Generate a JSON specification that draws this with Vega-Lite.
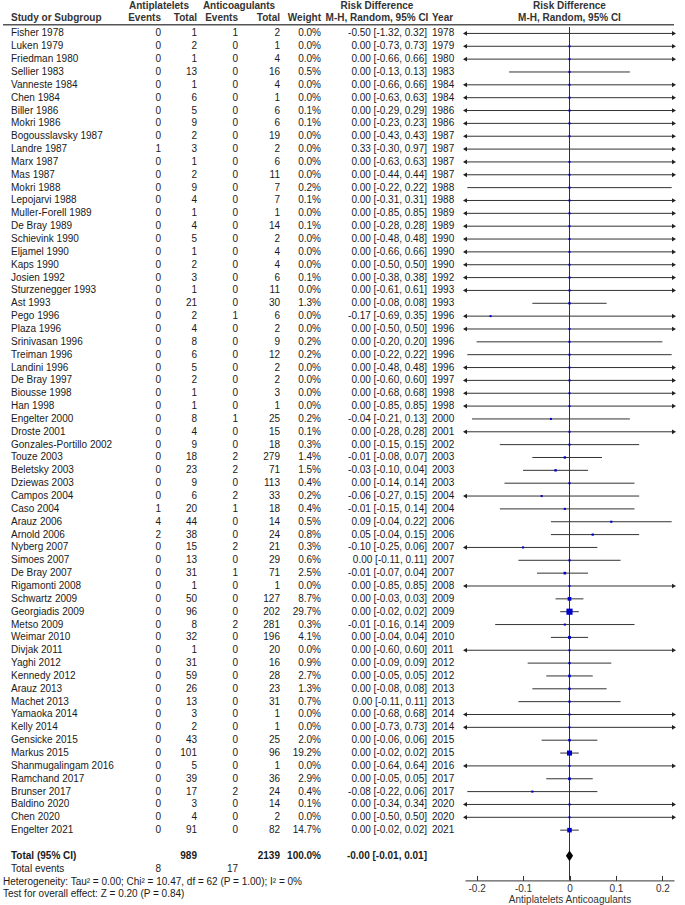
{
"$schema": "https://vega.github.io/schema/vega-lite/v6.json",
"padding": {"left": 2, "top": 0, "right": 2, "bottom": 0},
"background": "white",
"spacing": 0,
"bounds": "flush",
"config": {
  "view": {"stroke": null},
  "font": "Liberation Sans",
  "text": {"font": "Liberation Sans", "fontSize": 10, "color": "#1a1a1a", "baseline": "middle"},
  "title": {"font": "Liberation Sans", "fontSize": 10, "fontWeight": "bold", "color": "#333333", "frame": "group", "baseline": "bottom", "offset": 1, "lineHeight": 12, "anchor": "middle"},
  "axis": {"labelFont": "Liberation Sans", "titleFont": "Liberation Sans", "labelFontSize": 10, "titleFontSize": 10, "titleFontWeight": "normal", "labelColor": "#333333", "titleColor": "#333333", "domainColor": "#333333", "tickColor": "#333333", "grid": false},
  "concat": {"spacing": 0}
},
"data": {"values": [
{"i":0,"k":"study","s":"Fisher 1978","e1":0,"n1":1,"e2":1,"n2":2,"wt":"0.0%","ci":"-0.50 [-1.32, 0.32]","yr":"1978","rd":-0.50,"lo":-1.32,"hi":0.32,"w":0.0},
{"i":1,"k":"study","s":"Luken 1979","e1":0,"n1":2,"e2":0,"n2":1,"wt":"0.0%","ci":"0.00 [-0.73, 0.73]","yr":"1979","rd":0,"lo":-0.73,"hi":0.73,"w":0.0},
{"i":2,"k":"study","s":"Friedman 1980","e1":0,"n1":1,"e2":0,"n2":4,"wt":"0.0%","ci":"0.00 [-0.66, 0.66]","yr":"1980","rd":0,"lo":-0.66,"hi":0.66,"w":0.0},
{"i":3,"k":"study","s":"Sellier 1983","e1":0,"n1":13,"e2":0,"n2":16,"wt":"0.5%","ci":"0.00 [-0.13, 0.13]","yr":"1983","rd":0,"lo":-0.13,"hi":0.13,"w":0.5},
{"i":4,"k":"study","s":"Vanneste 1984","e1":0,"n1":1,"e2":0,"n2":4,"wt":"0.0%","ci":"0.00 [-0.66, 0.66]","yr":"1984","rd":0,"lo":-0.66,"hi":0.66,"w":0.0},
{"i":5,"k":"study","s":"Chen 1984","e1":0,"n1":6,"e2":0,"n2":1,"wt":"0.0%","ci":"0.00 [-0.63, 0.63]","yr":"1984","rd":0,"lo":-0.63,"hi":0.63,"w":0.0},
{"i":6,"k":"study","s":"Biller 1986","e1":0,"n1":5,"e2":0,"n2":6,"wt":"0.1%","ci":"0.00 [-0.29, 0.29]","yr":"1986","rd":0,"lo":-0.29,"hi":0.29,"w":0.1},
{"i":7,"k":"study","s":"Mokri 1986","e1":0,"n1":9,"e2":0,"n2":6,"wt":"0.1%","ci":"0.00 [-0.23, 0.23]","yr":"1986","rd":0,"lo":-0.23,"hi":0.23,"w":0.1},
{"i":8,"k":"study","s":"Bogousslavsky 1987","e1":0,"n1":2,"e2":0,"n2":19,"wt":"0.0%","ci":"0.00 [-0.43, 0.43]","yr":"1987","rd":0,"lo":-0.43,"hi":0.43,"w":0.0},
{"i":9,"k":"study","s":"Landre 1987","e1":1,"n1":3,"e2":0,"n2":2,"wt":"0.0%","ci":"0.33 [-0.30, 0.97]","yr":"1987","rd":0.33,"lo":-0.30,"hi":0.97,"w":0.0},
{"i":10,"k":"study","s":"Marx 1987","e1":0,"n1":1,"e2":0,"n2":6,"wt":"0.0%","ci":"0.00 [-0.63, 0.63]","yr":"1987","rd":0,"lo":-0.63,"hi":0.63,"w":0.0},
{"i":11,"k":"study","s":"Mas 1987","e1":0,"n1":2,"e2":0,"n2":11,"wt":"0.0%","ci":"0.00 [-0.44, 0.44]","yr":"1987","rd":0,"lo":-0.44,"hi":0.44,"w":0.0},
{"i":12,"k":"study","s":"Mokri 1988","e1":0,"n1":9,"e2":0,"n2":7,"wt":"0.2%","ci":"0.00 [-0.22, 0.22]","yr":"1988","rd":0,"lo":-0.22,"hi":0.22,"w":0.2},
{"i":13,"k":"study","s":"Lepojarvi 1988","e1":0,"n1":4,"e2":0,"n2":7,"wt":"0.1%","ci":"0.00 [-0.31, 0.31]","yr":"1988","rd":0,"lo":-0.31,"hi":0.31,"w":0.1},
{"i":14,"k":"study","s":"Muller-Forell 1989","e1":0,"n1":1,"e2":0,"n2":1,"wt":"0.0%","ci":"0.00 [-0.85, 0.85]","yr":"1989","rd":0,"lo":-0.85,"hi":0.85,"w":0.0},
{"i":15,"k":"study","s":"De Bray 1989","e1":0,"n1":4,"e2":0,"n2":14,"wt":"0.1%","ci":"0.00 [-0.28, 0.28]","yr":"1989","rd":0,"lo":-0.28,"hi":0.28,"w":0.1},
{"i":16,"k":"study","s":"Schievink 1990","e1":0,"n1":5,"e2":0,"n2":2,"wt":"0.0%","ci":"0.00 [-0.48, 0.48]","yr":"1990","rd":0,"lo":-0.48,"hi":0.48,"w":0.0},
{"i":17,"k":"study","s":"Eljamel 1990","e1":0,"n1":1,"e2":0,"n2":4,"wt":"0.0%","ci":"0.00 [-0.66, 0.66]","yr":"1990","rd":0,"lo":-0.66,"hi":0.66,"w":0.0},
{"i":18,"k":"study","s":"Kaps 1990","e1":0,"n1":2,"e2":0,"n2":4,"wt":"0.0%","ci":"0.00 [-0.50, 0.50]","yr":"1990","rd":0,"lo":-0.50,"hi":0.50,"w":0.0},
{"i":19,"k":"study","s":"Josien 1992","e1":0,"n1":3,"e2":0,"n2":6,"wt":"0.1%","ci":"0.00 [-0.38, 0.38]","yr":"1992","rd":0,"lo":-0.38,"hi":0.38,"w":0.1},
{"i":20,"k":"study","s":"Sturzenegger 1993","e1":0,"n1":1,"e2":0,"n2":11,"wt":"0.0%","ci":"0.00 [-0.61, 0.61]","yr":"1993","rd":0,"lo":-0.61,"hi":0.61,"w":0.0},
{"i":21,"k":"study","s":"Ast 1993","e1":0,"n1":21,"e2":0,"n2":30,"wt":"1.3%","ci":"0.00 [-0.08, 0.08]","yr":"1993","rd":0,"lo":-0.08,"hi":0.08,"w":1.3},
{"i":22,"k":"study","s":"Pego 1996","e1":0,"n1":2,"e2":1,"n2":6,"wt":"0.0%","ci":"-0.17 [-0.69, 0.35]","yr":"1996","rd":-0.17,"lo":-0.69,"hi":0.35,"w":0.0},
{"i":23,"k":"study","s":"Plaza 1996","e1":0,"n1":4,"e2":0,"n2":2,"wt":"0.0%","ci":"0.00 [-0.50, 0.50]","yr":"1996","rd":0,"lo":-0.50,"hi":0.50,"w":0.0},
{"i":24,"k":"study","s":"Srinivasan 1996","e1":0,"n1":8,"e2":0,"n2":9,"wt":"0.2%","ci":"0.00 [-0.20, 0.20]","yr":"1996","rd":0,"lo":-0.20,"hi":0.20,"w":0.2},
{"i":25,"k":"study","s":"Treiman 1996","e1":0,"n1":6,"e2":0,"n2":12,"wt":"0.2%","ci":"0.00 [-0.22, 0.22]","yr":"1996","rd":0,"lo":-0.22,"hi":0.22,"w":0.2},
{"i":26,"k":"study","s":"Landini 1996","e1":0,"n1":5,"e2":0,"n2":2,"wt":"0.0%","ci":"0.00 [-0.48, 0.48]","yr":"1996","rd":0,"lo":-0.48,"hi":0.48,"w":0.0},
{"i":27,"k":"study","s":"De Bray 1997","e1":0,"n1":2,"e2":0,"n2":2,"wt":"0.0%","ci":"0.00 [-0.60, 0.60]","yr":"1997","rd":0,"lo":-0.60,"hi":0.60,"w":0.0},
{"i":28,"k":"study","s":"Biousse 1998","e1":0,"n1":1,"e2":0,"n2":3,"wt":"0.0%","ci":"0.00 [-0.68, 0.68]","yr":"1998","rd":0,"lo":-0.68,"hi":0.68,"w":0.0},
{"i":29,"k":"study","s":"Han 1998","e1":0,"n1":1,"e2":0,"n2":1,"wt":"0.0%","ci":"0.00 [-0.85, 0.85]","yr":"1998","rd":0,"lo":-0.85,"hi":0.85,"w":0.0},
{"i":30,"k":"study","s":"Engelter 2000","e1":0,"n1":8,"e2":1,"n2":25,"wt":"0.2%","ci":"-0.04 [-0.21, 0.13]","yr":"2000","rd":-0.04,"lo":-0.21,"hi":0.13,"w":0.2},
{"i":31,"k":"study","s":"Droste 2001","e1":0,"n1":4,"e2":0,"n2":15,"wt":"0.1%","ci":"0.00 [-0.28, 0.28]","yr":"2001","rd":0,"lo":-0.28,"hi":0.28,"w":0.1},
{"i":32,"k":"study","s":"Gonzales-Portillo 2002","e1":0,"n1":9,"e2":0,"n2":18,"wt":"0.3%","ci":"0.00 [-0.15, 0.15]","yr":"2002","rd":0,"lo":-0.15,"hi":0.15,"w":0.3},
{"i":33,"k":"study","s":"Touze 2003","e1":0,"n1":18,"e2":2,"n2":279,"wt":"1.4%","ci":"-0.01 [-0.08, 0.07]","yr":"2003","rd":-0.01,"lo":-0.08,"hi":0.07,"w":1.4},
{"i":34,"k":"study","s":"Beletsky 2003","e1":0,"n1":23,"e2":2,"n2":71,"wt":"1.5%","ci":"-0.03 [-0.10, 0.04]","yr":"2003","rd":-0.03,"lo":-0.10,"hi":0.04,"w":1.5},
{"i":35,"k":"study","s":"Dziewas 2003","e1":0,"n1":9,"e2":0,"n2":113,"wt":"0.4%","ci":"0.00 [-0.14, 0.14]","yr":"2003","rd":0,"lo":-0.14,"hi":0.14,"w":0.4},
{"i":36,"k":"study","s":"Campos 2004","e1":0,"n1":6,"e2":2,"n2":33,"wt":"0.2%","ci":"-0.06 [-0.27, 0.15]","yr":"2004","rd":-0.06,"lo":-0.27,"hi":0.15,"w":0.2},
{"i":37,"k":"study","s":"Caso 2004","e1":1,"n1":20,"e2":1,"n2":18,"wt":"0.4%","ci":"-0.01 [-0.15, 0.14]","yr":"2004","rd":-0.01,"lo":-0.15,"hi":0.14,"w":0.4},
{"i":38,"k":"study","s":"Arauz 2006","e1":4,"n1":44,"e2":0,"n2":14,"wt":"0.5%","ci":"0.09 [-0.04, 0.22]","yr":"2006","rd":0.09,"lo":-0.04,"hi":0.22,"w":0.5},
{"i":39,"k":"study","s":"Arnold 2006","e1":2,"n1":38,"e2":0,"n2":24,"wt":"0.8%","ci":"0.05 [-0.04, 0.15]","yr":"2006","rd":0.05,"lo":-0.04,"hi":0.15,"w":0.8},
{"i":40,"k":"study","s":"Nyberg 2007","e1":0,"n1":15,"e2":2,"n2":21,"wt":"0.3%","ci":"-0.10 [-0.25, 0.06]","yr":"2007","rd":-0.10,"lo":-0.25,"hi":0.06,"w":0.3},
{"i":41,"k":"study","s":"Simoes 2007","e1":0,"n1":13,"e2":0,"n2":29,"wt":"0.6%","ci":"0.00 [-0.11, 0.11]","yr":"2007","rd":0,"lo":-0.11,"hi":0.11,"w":0.6},
{"i":42,"k":"study","s":"De Bray 2007","e1":0,"n1":31,"e2":1,"n2":71,"wt":"2.5%","ci":"-0.01 [-0.07, 0.04]","yr":"2007","rd":-0.01,"lo":-0.07,"hi":0.04,"w":2.5},
{"i":43,"k":"study","s":"Rigamonti 2008","e1":0,"n1":1,"e2":0,"n2":1,"wt":"0.0%","ci":"0.00 [-0.85, 0.85]","yr":"2008","rd":0,"lo":-0.85,"hi":0.85,"w":0.0},
{"i":44,"k":"study","s":"Schwartz 2009","e1":0,"n1":50,"e2":0,"n2":127,"wt":"8.7%","ci":"0.00 [-0.03, 0.03]","yr":"2009","rd":0,"lo":-0.03,"hi":0.03,"w":8.7},
{"i":45,"k":"study","s":"Georgiadis 2009","e1":0,"n1":96,"e2":0,"n2":202,"wt":"29.7%","ci":"0.00 [-0.02, 0.02]","yr":"2009","rd":0,"lo":-0.02,"hi":0.02,"w":29.7},
{"i":46,"k":"study","s":"Metso 2009","e1":0,"n1":8,"e2":2,"n2":281,"wt":"0.3%","ci":"-0.01 [-0.16, 0.14]","yr":"2009","rd":-0.01,"lo":-0.16,"hi":0.14,"w":0.3},
{"i":47,"k":"study","s":"Weimar 2010","e1":0,"n1":32,"e2":0,"n2":196,"wt":"4.1%","ci":"0.00 [-0.04, 0.04]","yr":"2010","rd":0,"lo":-0.04,"hi":0.04,"w":4.1},
{"i":48,"k":"study","s":"Divjak 2011","e1":0,"n1":1,"e2":0,"n2":20,"wt":"0.0%","ci":"0.00 [-0.60, 0.60]","yr":"2011","rd":0,"lo":-0.60,"hi":0.60,"w":0.0},
{"i":49,"k":"study","s":"Yaghi 2012","e1":0,"n1":31,"e2":0,"n2":16,"wt":"0.9%","ci":"0.00 [-0.09, 0.09]","yr":"2012","rd":0,"lo":-0.09,"hi":0.09,"w":0.9},
{"i":50,"k":"study","s":"Kennedy 2012","e1":0,"n1":59,"e2":0,"n2":28,"wt":"2.7%","ci":"0.00 [-0.05, 0.05]","yr":"2012","rd":0,"lo":-0.05,"hi":0.05,"w":2.7},
{"i":51,"k":"study","s":"Arauz 2013","e1":0,"n1":26,"e2":0,"n2":23,"wt":"1.3%","ci":"0.00 [-0.08, 0.08]","yr":"2013","rd":0,"lo":-0.08,"hi":0.08,"w":1.3},
{"i":52,"k":"study","s":"Machet 2013","e1":0,"n1":13,"e2":0,"n2":31,"wt":"0.7%","ci":"0.00 [-0.11, 0.11]","yr":"2013","rd":0,"lo":-0.11,"hi":0.11,"w":0.7},
{"i":53,"k":"study","s":"Yamaoka 2014","e1":0,"n1":3,"e2":0,"n2":1,"wt":"0.0%","ci":"0.00 [-0.68, 0.68]","yr":"2014","rd":0,"lo":-0.68,"hi":0.68,"w":0.0},
{"i":54,"k":"study","s":"Kelly 2014","e1":0,"n1":2,"e2":0,"n2":1,"wt":"0.0%","ci":"0.00 [-0.73, 0.73]","yr":"2014","rd":0,"lo":-0.73,"hi":0.73,"w":0.0},
{"i":55,"k":"study","s":"Gensicke 2015","e1":0,"n1":43,"e2":0,"n2":25,"wt":"2.0%","ci":"0.00 [-0.06, 0.06]","yr":"2015","rd":0,"lo":-0.06,"hi":0.06,"w":2.0},
{"i":56,"k":"study","s":"Markus 2015","e1":0,"n1":101,"e2":0,"n2":96,"wt":"19.2%","ci":"0.00 [-0.02, 0.02]","yr":"2015","rd":0,"lo":-0.02,"hi":0.02,"w":19.2},
{"i":57,"k":"study","s":"Shanmugalingam 2016","e1":0,"n1":5,"e2":0,"n2":1,"wt":"0.0%","ci":"0.00 [-0.64, 0.64]","yr":"2016","rd":0,"lo":-0.64,"hi":0.64,"w":0.0},
{"i":58,"k":"study","s":"Ramchand 2017","e1":0,"n1":39,"e2":0,"n2":36,"wt":"2.9%","ci":"0.00 [-0.05, 0.05]","yr":"2017","rd":0,"lo":-0.05,"hi":0.05,"w":2.9},
{"i":59,"k":"study","s":"Brunser 2017","e1":0,"n1":17,"e2":2,"n2":24,"wt":"0.4%","ci":"-0.08 [-0.22, 0.06]","yr":"2017","rd":-0.08,"lo":-0.22,"hi":0.06,"w":0.4},
{"i":60,"k":"study","s":"Baldino 2020","e1":0,"n1":3,"e2":0,"n2":14,"wt":"0.1%","ci":"0.00 [-0.34, 0.34]","yr":"2020","rd":0,"lo":-0.34,"hi":0.34,"w":0.1},
{"i":61,"k":"study","s":"Chen 2020","e1":0,"n1":4,"e2":0,"n2":2,"wt":"0.0%","ci":"0.00 [-0.50, 0.50]","yr":"2020","rd":0,"lo":-0.50,"hi":0.50,"w":0.0},
{"i":62,"k":"study","s":"Engelter 2021","e1":0,"n1":91,"e2":0,"n2":82,"wt":"14.7%","ci":"0.00 [-0.02, 0.02]","yr":"2021","rd":0,"lo":-0.02,"hi":0.02,"w":14.7},
{"i":64,"k":"total","s":"Total (95% CI)","n1":989,"n2":2139,"wt":"100.0%","ci":"-0.00 [-0.01, 0.01]","rd":0,"lo":-0.01,"hi":0.01},
{"i":65,"k":"te","s":"Total events","e1":8,"e2":17},
{"i":66,"k":"note","s":"Heterogeneity: Tau² = 0.00; Chi² = 10.47, df = 62 (P = 1.00); I² = 0%"},
{"i":67,"k":"note","s":"Test for overall effect: Z = 0.20 (P = 0.84)"}
]},
"hconcat": [
{
  "width": 118, "height": 873.8,
  "title": {"text": "Study or Subgroup", "anchor": "start", "dx": 8},
  "layer": [
    {"transform": [{"filter": "datum.k == 'study' || datum.k == 'te'"}],
     "mark": {"type": "text", "align": "left", "x": 0, "dx": 8},
     "encoding": {"y": {"field": "i", "type": "quantitative", "scale": {"domain": [-0.5, 67.5], "reverse": true, "nice": false, "zero": false}, "axis": null}, "text": {"field": "s", "type": "nominal"}}},
    {"transform": [{"filter": "datum.k == 'total'"}],
     "mark": {"type": "text", "align": "left", "x": 0, "dx": 8, "fontWeight": "bold"},
     "encoding": {"y": {"field": "i", "type": "quantitative", "scale": {"domain": [-0.5, 67.5], "reverse": true, "nice": false, "zero": false}, "axis": null}, "text": {"field": "s", "type": "nominal"}}},
    {"transform": [{"filter": "datum.k == 'note'"}],
     "mark": {"type": "text", "align": "left", "x": 0},
     "encoding": {"y": {"field": "i", "type": "quantitative", "scale": {"domain": [-0.5, 67.5], "reverse": true, "nice": false, "zero": false}, "axis": null}, "text": {"field": "s", "type": "nominal"}}},
    {"data": {"values": [{}]},
     "mark": {"type": "rule", "color": "#555555", "strokeWidth": 1.6},
     "encoding": {"y": {"datum": -0.68, "type": "quantitative", "scale": {"domain": [-0.5, 67.5], "reverse": true, "nice": false, "zero": false}, "axis": null}}}
  ]
},
{
  "width": 40, "height": 873.8,
  "layer": [
    {"transform": [{"filter": "isValid(datum.e1)"}],
     "mark": {"type": "text", "align": "right", "x": "width"},
     "encoding": {"y": {"field": "i", "type": "quantitative", "scale": {"domain": [-0.5, 67.5], "reverse": true, "nice": false, "zero": false}, "axis": null}, "text": {"field": "e1", "type": "nominal"}}},
    {"data": {"values": [{}]},
     "mark": {"type": "text", "align": "right", "x": "width", "fontWeight": "bold", "color": "#333333"},
     "encoding": {"y": {"datum": -1.22, "type": "quantitative", "scale": {"domain": [-0.5, 67.5], "reverse": true, "nice": false, "zero": false}, "axis": null}, "text": {"value": "Events"}}},
    {"data": {"values": [{}]},
     "mark": {"type": "text", "align": "center", "x": "width", "dx": -2, "fontWeight": "bold", "color": "#333333"},
     "encoding": {"y": {"datum": -2.12, "type": "quantitative", "scale": {"domain": [-0.5, 67.5], "reverse": true, "nice": false, "zero": false}, "axis": null}, "text": {"value": "Antiplatelets"}}},
    {"data": {"values": [{}]},
     "mark": {"type": "rule", "color": "#555555", "strokeWidth": 1.6},
     "encoding": {"y": {"datum": -0.68, "type": "quantitative", "scale": {"domain": [-0.5, 67.5], "reverse": true, "nice": false, "zero": false}, "axis": null}}}
  ]
},
{
  "width": 36, "height": 873.8,
  "layer": [
    {"transform": [{"filter": "isValid(datum.n1) && datum.k != 'total'"}],
     "mark": {"type": "text", "align": "right", "x": "width"},
     "encoding": {"y": {"field": "i", "type": "quantitative", "scale": {"domain": [-0.5, 67.5], "reverse": true, "nice": false, "zero": false}, "axis": null}, "text": {"field": "n1", "type": "nominal"}}},
    {"transform": [{"filter": "datum.k == 'total'"}],
     "mark": {"type": "text", "align": "right", "x": "width", "fontWeight": "bold"},
     "encoding": {"y": {"field": "i", "type": "quantitative", "scale": {"domain": [-0.5, 67.5], "reverse": true, "nice": false, "zero": false}, "axis": null}, "text": {"field": "n1", "type": "nominal"}}},
    {"data": {"values": [{}]},
     "mark": {"type": "text", "align": "right", "x": "width", "fontWeight": "bold", "color": "#333333"},
     "encoding": {"y": {"datum": -1.22, "type": "quantitative", "scale": {"domain": [-0.5, 67.5], "reverse": true, "nice": false, "zero": false}, "axis": null}, "text": {"value": "Total"}}},
    {"data": {"values": [{}]},
     "mark": {"type": "rule", "color": "#555555", "strokeWidth": 1.6},
     "encoding": {"y": {"datum": -0.68, "type": "quantitative", "scale": {"domain": [-0.5, 67.5], "reverse": true, "nice": false, "zero": false}, "axis": null}}}
  ]
},
{
  "width": 41, "height": 873.8,
  "layer": [
    {"transform": [{"filter": "isValid(datum.e2)"}],
     "mark": {"type": "text", "align": "right", "x": "width"},
     "encoding": {"y": {"field": "i", "type": "quantitative", "scale": {"domain": [-0.5, 67.5], "reverse": true, "nice": false, "zero": false}, "axis": null}, "text": {"field": "e2", "type": "nominal"}}},
    {"data": {"values": [{}]},
     "mark": {"type": "text", "align": "right", "x": "width", "fontWeight": "bold", "color": "#333333"},
     "encoding": {"y": {"datum": -1.22, "type": "quantitative", "scale": {"domain": [-0.5, 67.5], "reverse": true, "nice": false, "zero": false}, "axis": null}, "text": {"value": "Events"}}},
    {"data": {"values": [{}]},
     "mark": {"type": "text", "align": "center", "x": "width", "dx": 1, "fontWeight": "bold", "color": "#333333"},
     "encoding": {"y": {"datum": -2.12, "type": "quantitative", "scale": {"domain": [-0.5, 67.5], "reverse": true, "nice": false, "zero": false}, "axis": null}, "text": {"value": "Anticoagulants"}}},
    {"data": {"values": [{}]},
     "mark": {"type": "rule", "color": "#555555", "strokeWidth": 1.6},
     "encoding": {"y": {"datum": -0.68, "type": "quantitative", "scale": {"domain": [-0.5, 67.5], "reverse": true, "nice": false, "zero": false}, "axis": null}}}
  ]
},
{
  "width": 42, "height": 873.8,
  "layer": [
    {"transform": [{"filter": "isValid(datum.n2) && datum.k != 'total'"}],
     "mark": {"type": "text", "align": "right", "x": "width"},
     "encoding": {"y": {"field": "i", "type": "quantitative", "scale": {"domain": [-0.5, 67.5], "reverse": true, "nice": false, "zero": false}, "axis": null}, "text": {"field": "n2", "type": "nominal"}}},
    {"transform": [{"filter": "datum.k == 'total'"}],
     "mark": {"type": "text", "align": "right", "x": "width", "fontWeight": "bold"},
     "encoding": {"y": {"field": "i", "type": "quantitative", "scale": {"domain": [-0.5, 67.5], "reverse": true, "nice": false, "zero": false}, "axis": null}, "text": {"field": "n2", "type": "nominal"}}},
    {"data": {"values": [{}]},
     "mark": {"type": "text", "align": "right", "x": "width", "fontWeight": "bold", "color": "#333333"},
     "encoding": {"y": {"datum": -1.22, "type": "quantitative", "scale": {"domain": [-0.5, 67.5], "reverse": true, "nice": false, "zero": false}, "axis": null}, "text": {"value": "Total"}}},
    {"data": {"values": [{}]},
     "mark": {"type": "rule", "color": "#555555", "strokeWidth": 1.6},
     "encoding": {"y": {"datum": -0.68, "type": "quantitative", "scale": {"domain": [-0.5, 67.5], "reverse": true, "nice": false, "zero": false}, "axis": null}}}
  ]
},
{
  "width": 41, "height": 873.8,
  "title": {"text": "Weight", "anchor": "end"},
  "layer": [
    {"transform": [{"filter": "datum.k == 'study'"}],
     "mark": {"type": "text", "align": "right", "x": "width"},
     "encoding": {"y": {"field": "i", "type": "quantitative", "scale": {"domain": [-0.5, 67.5], "reverse": true, "nice": false, "zero": false}, "axis": null}, "text": {"field": "wt", "type": "nominal"}}},
    {"transform": [{"filter": "datum.k == 'total'"}],
     "mark": {"type": "text", "align": "right", "x": "width", "fontWeight": "bold"},
     "encoding": {"y": {"field": "i", "type": "quantitative", "scale": {"domain": [-0.5, 67.5], "reverse": true, "nice": false, "zero": false}, "axis": null}, "text": {"field": "wt", "type": "nominal"}}},
    {"data": {"values": [{}]},
     "mark": {"type": "rule", "color": "#555555", "strokeWidth": 1.6},
     "encoding": {"y": {"datum": -0.68, "type": "quantitative", "scale": {"domain": [-0.5, 67.5], "reverse": true, "nice": false, "zero": false}, "axis": null}}}
  ]
},
{
  "width": 106, "height": 873.8,
  "title": {"text": ["Risk Difference", "M-H, Random, 95% CI"], "anchor": "middle", "dx": 3},
  "layer": [
    {"transform": [{"filter": "datum.k == 'study'"}],
     "mark": {"type": "text", "align": "right", "x": "width"},
     "encoding": {"y": {"field": "i", "type": "quantitative", "scale": {"domain": [-0.5, 67.5], "reverse": true, "nice": false, "zero": false}, "axis": null}, "text": {"field": "ci", "type": "nominal"}}},
    {"transform": [{"filter": "datum.k == 'total'"}],
     "mark": {"type": "text", "align": "right", "x": "width", "fontWeight": "bold"},
     "encoding": {"y": {"field": "i", "type": "quantitative", "scale": {"domain": [-0.5, 67.5], "reverse": true, "nice": false, "zero": false}, "axis": null}, "text": {"field": "ci", "type": "nominal"}}},
    {"data": {"values": [{}]},
     "mark": {"type": "rule", "color": "#555555", "strokeWidth": 1.6},
     "encoding": {"y": {"datum": -0.68, "type": "quantitative", "scale": {"domain": [-0.5, 67.5], "reverse": true, "nice": false, "zero": false}, "axis": null}}}
  ]
},
{
  "width": 38, "height": 873.8,
  "title": {"text": "Year", "anchor": "start", "dx": 5},
  "layer": [
    {"transform": [{"filter": "datum.k == 'study'"}],
     "mark": {"type": "text", "align": "left", "x": 0, "dx": 5},
     "encoding": {"y": {"field": "i", "type": "quantitative", "scale": {"domain": [-0.5, 67.5], "reverse": true, "nice": false, "zero": false}, "axis": null}, "text": {"field": "yr", "type": "nominal"}}},
    {"data": {"values": [{}]},
     "mark": {"type": "rule", "color": "#555555", "strokeWidth": 1.6},
     "encoding": {"y": {"datum": -0.68, "type": "quantitative", "scale": {"domain": [-0.5, 67.5], "reverse": true, "nice": false, "zero": false}, "axis": null}}}
  ]
},
{
  "width": 209, "height": 853.4,
  "title": {"text": ["Risk Difference", "M-H, Random, 95% CI"], "anchor": "middle"},
  "layer": [
    {"data": {"values": [{}]},
     "mark": {"type": "rule", "color": "#555555", "strokeWidth": 1.6},
     "encoding": {"y": {"datum": -0.68, "type": "quantitative", "scale": {"domain": [-0.5, 65.91], "reverse": true, "nice": false, "zero": false}, "axis": null}}},
    {"data": {"values": [{}]},
     "mark": {"type": "rule", "color": "#333333", "strokeWidth": 1},
     "encoding": {"x": {"datum": 0, "type": "quantitative",
        "scale": {"domain": [-0.225, 0.225], "clamp": true, "nice": false, "zero": false},
        "axis": {"values": [-0.2, -0.1, 0, 0.1, 0.2], "tickSize": -5, "labelPadding": 8, "titlePadding": 1,
                 "title": "Antiplatelets   Anticoagulants",
                 "labelExpr": "datum.value == 0 ? '0' : (datum.value < 0 ? '-' + format(-datum.value, '.1f') : format(datum.value, '.1f'))"}}}},
    {"transform": [{"filter": "datum.k == 'study'"}],
     "mark": {"type": "rule", "color": "#333333", "strokeWidth": 1},
     "encoding": {"x": {"field": "lo", "type": "quantitative", "scale": {"domain": [-0.225, 0.225], "clamp": true, "nice": false, "zero": false}},
                  "x2": {"field": "hi"},
                  "y": {"field": "i", "type": "quantitative", "scale": {"domain": [-0.5, 65.91], "reverse": true, "nice": false, "zero": false}, "axis": null}}},
    {"transform": [{"filter": "datum.k == 'study' && datum.lo < -0.225"}],
     "mark": {"type": "point", "shape": "triangle-left", "filled": true, "color": "#222222", "size": 22, "opacity": 1},
     "encoding": {"x": {"field": "lo", "type": "quantitative", "scale": {"domain": [-0.225, 0.225], "clamp": true, "nice": false, "zero": false}},
                  "y": {"field": "i", "type": "quantitative", "scale": {"domain": [-0.5, 65.91], "reverse": true, "nice": false, "zero": false}, "axis": null}}},
    {"transform": [{"filter": "datum.k == 'study' && datum.hi > 0.225"}],
     "mark": {"type": "point", "shape": "triangle-right", "filled": true, "color": "#222222", "size": 22, "opacity": 1},
     "encoding": {"x": {"field": "hi", "type": "quantitative", "scale": {"domain": [-0.225, 0.225], "clamp": true, "nice": false, "zero": false}},
                  "y": {"field": "i", "type": "quantitative", "scale": {"domain": [-0.5, 65.91], "reverse": true, "nice": false, "zero": false}, "axis": null}}},
    {"transform": [{"filter": "datum.k == 'study' && abs(datum.rd) <= 0.225"}],
     "mark": {"type": "point", "shape": "square", "filled": true, "color": "#0000cc", "opacity": 1},
     "encoding": {"x": {"field": "rd", "type": "quantitative", "scale": {"domain": [-0.225, 0.225], "clamp": true, "nice": false, "zero": false}},
                  "y": {"field": "i", "type": "quantitative", "scale": {"domain": [-0.5, 65.91], "reverse": true, "nice": false, "zero": false}, "axis": null},
                  "size": {"field": "w", "type": "quantitative", "scale": {"domain": [0, 30], "range": [4, 38]}, "legend": null}}},
    {"transform": [{"filter": "datum.k == 'total'"}],
     "mark": {"type": "point", "shape": "M0,-1.2L0.8,0L0,1.2L-0.8,0Z", "filled": true, "color": "#000000", "size": 81, "opacity": 1},
     "encoding": {"x": {"field": "rd", "type": "quantitative", "scale": {"domain": [-0.225, 0.225], "clamp": true, "nice": false, "zero": false}},
                  "y": {"field": "i", "type": "quantitative", "scale": {"domain": [-0.5, 65.91], "reverse": true, "nice": false, "zero": false}, "axis": null}}}
  ]
}
]
}
